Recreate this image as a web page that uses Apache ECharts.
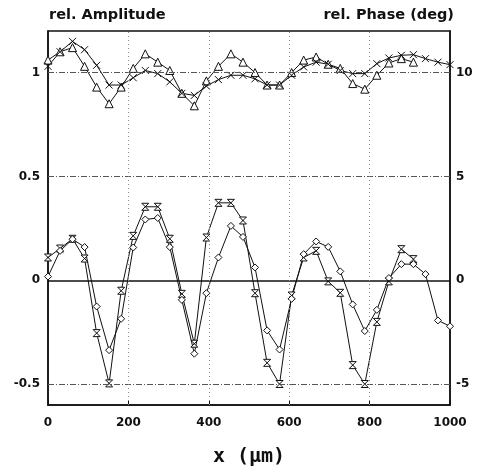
<!DOCTYPE html>
<html><head><meta charset="utf-8">
<script src="https://cdn.jsdelivr.net/npm/echarts@6/dist/echarts.min.js"></script>
<style>html,body{margin:0;padding:0;background:#fff}#c{width:477px;height:472px}</style>
</head><body><div id="c"></div>
<script>
const xA = [0,30,61,91,121,152,182,212,242,273,303,333,364,394,424,455,485,515,545,576,606,636,667,697,727,758,788,818,848,879,909];
const xB = [0,30,61,91,121,152,182,212,242,273,303,333,364,394,424,455,485,515,545,576,606,636,667,697,727,758,788,818,848,879,909,939,970,1000];
const triangleVals = [1.06,1.10,1.12,1.03,0.93,0.85,0.93,1.02,1.09,1.05,1.01,0.90,0.84,0.96,1.03,1.09,1.05,1.00,0.94,0.94,1.00,1.06,1.075,1.04,1.02,0.947,0.92,0.987,1.046,1.067,1.05];
const crossVals = [1.03,1.10,1.15,1.11,1.035,0.94,0.94,0.975,1.01,0.995,0.955,0.90,0.89,0.935,0.966,0.987,0.987,0.97,0.94,0.94,0.987,1.027,1.05,1.04,1.01,0.995,0.995,1.043,1.07,1.083,1.086,1.067,1.05,1.038];
const hourglassVals = [0.11,0.153,0.20,0.105,-0.254,-0.496,-0.05,0.214,0.354,0.354,0.20,-0.065,-0.305,0.206,0.373,0.373,0.288,-0.062,-0.397,-0.499,-0.073,0.11,0.142,-0.005,-0.06,-0.408,-0.499,-0.20,-0.005,0.15,0.102];
const diamondVals = [0.018,0.142,0.198,0.16,-0.126,-0.336,-0.185,0.158,0.293,0.30,0.16,-0.094,-0.353,-0.062,0.11,0.262,0.209,0.062,-0.241,-0.333,-0.089,0.126,0.187,0.161,0.043,-0.116,-0.244,-0.142,0.011,0.078,0.078,0.03,-0.193,-0.221];
const leftTicks = [-0.5,0,0.5,1];
const rightTicks = [-5,0,5,10];
const hGrid = [-0.5,0.5,1];
const vGrid = [200,400,600,800];

const zip = (xs, ys) => ys.map((v,i)=>[xs[i], v]);
const font = 'DejaVu Sans';
const baseSeries = (data, symbol, size) => ({
  type:'line', data, symbol, symbolSize:size, showAllSymbol:true,
  lineStyle:{color:'#111', width:1},
  itemStyle:{color:'#fff', borderColor:'#111', borderWidth:1},
  z:3
});

const chart = echarts.init(document.getElementById('c'), null, {renderer:'canvas'});
chart.setOption({
  animation:false,
  backgroundColor:'#fff',
  grid:{left:48, right:27, top:31, bottom:64, show:true, borderColor:'#111', borderWidth:1.5, backgroundColor:'transparent'},
  graphic:[
    {type:'text', left:49, top:8, style:{text:'rel. Amplitude', font:'bold 14.5px "DejaVu Sans"', fill:'#111'}},
    {type:'text', right:23, top:8, style:{text:'rel. Phase (deg)', font:'bold 14.5px "DejaVu Sans"', fill:'#111'}}
  ],
  xAxis:[{
    type:'value', min:0, max:1000, interval:200, position:'bottom',
    axisLine:{show:true, onZero:false, lineStyle:{color:'#111', width:1.5}},
    axisTick:{show:true, inside:true, length:5, lineStyle:{color:'#111', width:1}},
    axisLabel:{formatter:v=>String(v), fontFamily:font, fontWeight:'bold', fontSize:12, color:'#111', margin:12},
    name:'x (µm)', nameLocation:'middle', nameGap:42,
    nameTextStyle:{fontFamily:'DejaVu Sans Mono', fontWeight:'bold', fontSize:20, color:'#111'},
    splitLine:{show:false}
  }],
  yAxis:[{
    type:'value', min:-0.6, max:1.2, position:'left',
    axisLine:{show:true, onZero:false, lineStyle:{color:'#111', width:1.5}},
    axisTick:{show:false},
    axisLabel:{customValues:leftTicks, fontFamily:font, fontWeight:'bold', fontSize:12, color:'#111', margin:8},
    splitLine:{show:false}
  },{
    type:'value', min:-6, max:12, position:'right',
    axisLine:{show:true, onZero:false, lineStyle:{color:'#111', width:1.5}},
    axisTick:{show:false},
    axisLabel:{customValues:rightTicks, fontFamily:font, fontWeight:'bold', fontSize:12, color:'#111', margin:6},
    splitLine:{show:false}
  }],
  series:[
    Object.assign(baseSeries(zip(xA, triangleVals), 'triangle', 8), {
      markLine:{
        silent:true, symbol:'none', label:{show:false},
        data:[
          ...hGrid.map(v=>({yAxis:v, lineStyle:{color:'#555', width:1, type:[6,2,1,2]}})),
          {yAxis:0, lineStyle:{color:'#111', width:1.5, type:'solid'}},
          ...vGrid.map(v=>({xAxis:v, lineStyle:{color:'#888', width:1, type:[1,3]}}))
        ]
      }
    }),
    Object.assign(baseSeries(zip(xB, crossVals), 'path://M0,0L10,10M10,0L0,10', 7), {itemStyle:{color:'none', borderColor:'#111', borderWidth:1}}),
    baseSeries(zip(xA, hourglassVals), 'path://M0,0L10,0L0,10L10,10Z', 7),
    baseSeries(zip(xB, diamondVals), 'diamond', 7)
  ]
});
</script></body></html>
